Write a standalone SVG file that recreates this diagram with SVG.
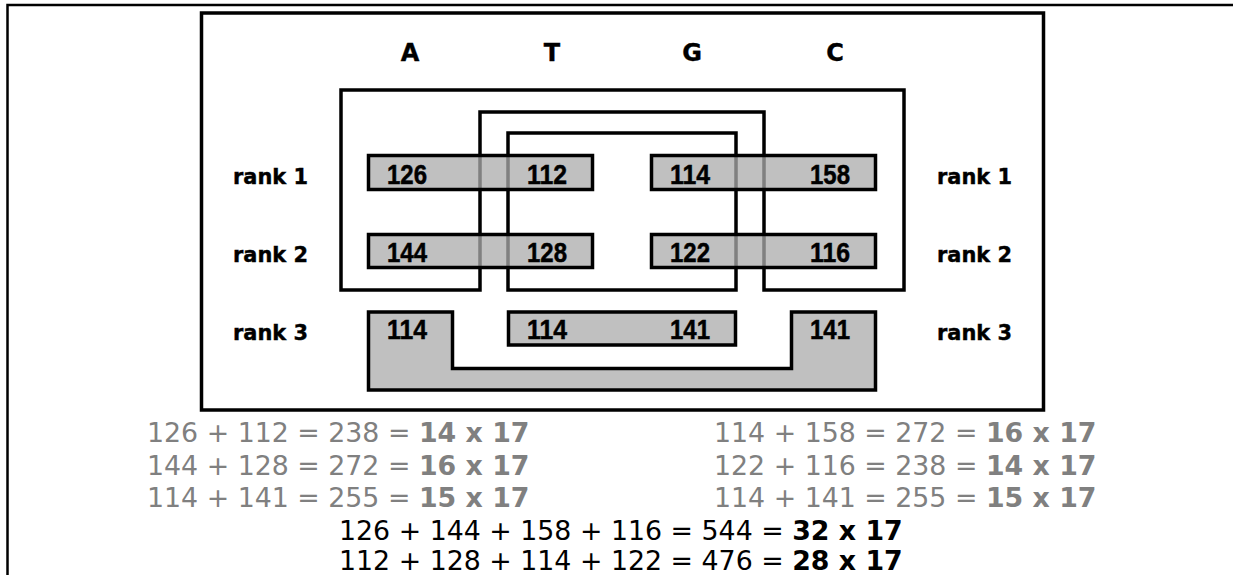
<svg xmlns="http://www.w3.org/2000/svg" width="1233" height="575" viewBox="0 0 1233 575">
<style>
.frame{fill:none;stroke:#000;stroke-width:3.5}
.line{fill:none;stroke:#000;stroke-width:3.5}
.box{fill:#ababab;fill-opacity:0.75;stroke:#000;stroke-width:3.5}
.hdr{font-family:"DejaVu Sans",sans-serif;font-weight:bold;font-size:24px;fill:#000;stroke:#000;stroke-width:0.4;text-anchor:middle}
.rk{font-family:"DejaVu Sans",sans-serif;font-weight:bold;font-size:21px;fill:#000;stroke:#000;stroke-width:0.4}
.num{font-family:"Liberation Sans",Arial,sans-serif;font-weight:bold;font-size:27.5px;fill:#000;stroke:#000;stroke-width:0.5}
.eq{font-family:"DejaVu Sans",Verdana,sans-serif;font-size:26.8px}
.g{fill:#808080}
.k{fill:#000}
.b{font-weight:bold}
</style>
<rect width="1233" height="575" fill="#fff"/>
<g id="page-border">
<path d="M7.5,575 V5 H1233" fill="none" stroke="#000" stroke-width="2.5"/>
</g>
<g id="panel">
<rect class="frame" x="201.5" y="13" width="842" height="397"/>
</g>
<g id="headers">
<text class="hdr" x="410" y="61">A</text>
<text class="hdr" x="552" y="61">T</text>
<text class="hdr" x="692" y="61">G</text>
<text class="hdr" x="835" y="61">C</text>
</g>
<g id="rank-labels">
<text class="rk" x="233" y="184" textLength="75" lengthAdjust="spacingAndGlyphs">rank 1</text>
<text class="rk" x="233" y="262" textLength="75" lengthAdjust="spacingAndGlyphs">rank 2</text>
<text class="rk" x="233" y="340" textLength="75" lengthAdjust="spacingAndGlyphs">rank 3</text>
<text class="rk" x="937" y="184" textLength="75" lengthAdjust="spacingAndGlyphs">rank 1</text>
<text class="rk" x="937" y="262" textLength="75" lengthAdjust="spacingAndGlyphs">rank 2</text>
<text class="rk" x="937" y="340" textLength="75" lengthAdjust="spacingAndGlyphs">rank 3</text>
</g>
<g id="connectors">
<path class="line" d="M341,90 H904 V290 H764 V112 H480 V290 H341 Z"/>
<rect class="line" x="508" y="133" width="228" height="157"/>
</g>
<g id="box-r1-left">
<rect class="box" x="368.5" y="155.5" width="224" height="34"/>
<text class="num" x="387" y="183.5" textLength="40" lengthAdjust="spacingAndGlyphs">126</text>
<text class="num" x="527" y="183.5" textLength="40" lengthAdjust="spacingAndGlyphs">112</text>
</g>
<g id="box-r1-right">
<rect class="box" x="651.5" y="155.5" width="224" height="34"/>
<text class="num" x="670" y="183.5" textLength="40" lengthAdjust="spacingAndGlyphs">114</text>
<text class="num" x="810" y="183.5" textLength="40" lengthAdjust="spacingAndGlyphs">158</text>
</g>
<g id="box-r2-left">
<rect class="box" x="368.5" y="234.5" width="224" height="33"/>
<text class="num" x="387" y="261.5" textLength="40" lengthAdjust="spacingAndGlyphs">144</text>
<text class="num" x="527" y="261.5" textLength="40" lengthAdjust="spacingAndGlyphs">128</text>
</g>
<g id="box-r2-right">
<rect class="box" x="651.5" y="234.5" width="224" height="33"/>
<text class="num" x="670" y="261.5" textLength="40" lengthAdjust="spacingAndGlyphs">122</text>
<text class="num" x="810" y="261.5" textLength="40" lengthAdjust="spacingAndGlyphs">116</text>
</g>
<g id="box-r3-middle">
<rect class="box" x="508.5" y="312" width="227" height="33"/>
<text class="num" x="527" y="338.5" textLength="40" lengthAdjust="spacingAndGlyphs">114</text>
<text class="num" x="670" y="338.5" textLength="40" lengthAdjust="spacingAndGlyphs">141</text>
</g>
<g id="box-r3-outer">
<path class="box" d="M368.5,312 H452.5 V368.5 H791.5 V312 H875.5 V390 H368.5 Z"/>
<text class="num" x="387" y="338.5" textLength="40" lengthAdjust="spacingAndGlyphs">114</text>
<text class="num" x="810" y="338.5" textLength="40" lengthAdjust="spacingAndGlyphs">141</text>
</g>
<g id="equations">
<text class="eq g" x="147" y="442">126 + 112 = 238 = <tspan class="b">14 x 17</tspan></text>
<text class="eq g" x="147" y="475">144 + 128 = 272 = <tspan class="b">16 x 17</tspan></text>
<text class="eq g" x="147" y="507">114 + 141 = 255 = <tspan class="b">15 x 17</tspan></text>
<text class="eq g" x="714" y="442">114 + 158 = 272 = <tspan class="b">16 x 17</tspan></text>
<text class="eq g" x="714" y="475">122 + 116 = 238 = <tspan class="b">14 x 17</tspan></text>
<text class="eq g" x="714" y="507">114 + 141 = 255 = <tspan class="b">15 x 17</tspan></text>
<text class="eq k" x="339" y="540">126 + 144 + 158 + 116 = 544 = <tspan class="b">32 x 17</tspan></text>
<text class="eq k" x="339" y="570">112 + 128 + 114 + 122 = 476 = <tspan class="b">28 x 17</tspan></text>
</g>
</svg>
